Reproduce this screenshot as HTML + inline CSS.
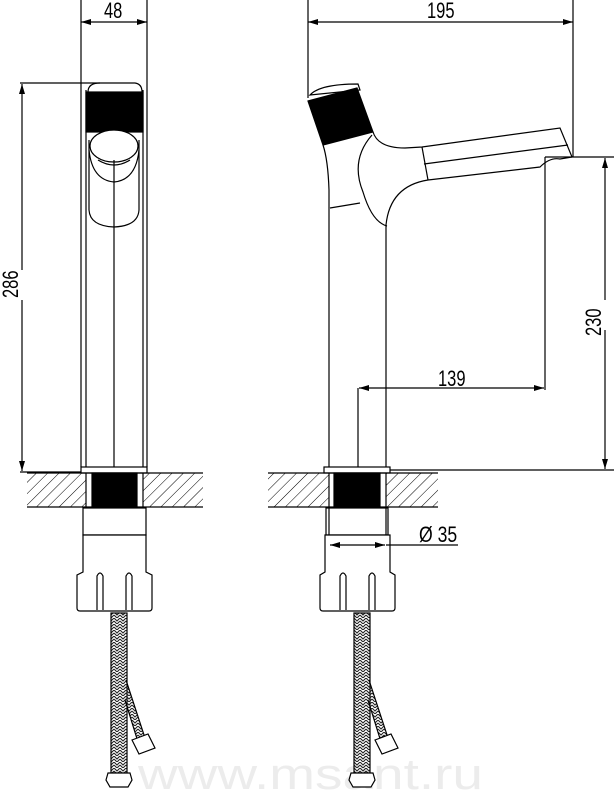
<!DOCTYPE html>
<html><head><style>html,body{margin:0;padding:0;background:#fff}svg{display:block}</style></head><body>
<svg width="614" height="790" viewBox="0 0 614 790" xmlns="http://www.w3.org/2000/svg" font-family="Liberation Sans, sans-serif">
<defs>
<pattern id="h" width="8" height="8" patternUnits="userSpaceOnUse" patternTransform="rotate(45)"><line x1="0" y1="0" x2="0" y2="8" stroke="#000" stroke-width="1"/></pattern>
<pattern id="br" width="6" height="6" patternUnits="userSpaceOnUse"><path d="M0 0 L3 3 L6 0 M0 3 L3 6 L6 3" stroke="#222" fill="none" stroke-width="1.1"/></pattern>
<marker id="a" markerWidth="10" markerHeight="6" refX="10" refY="3" orient="auto" markerUnits="userSpaceOnUse"><path d="M0 0 L10 3 L0 6z" fill="#000"/></marker>
</defs>
<text x="138" y="789" font-size="44" fill="#ececec" textLength="345" lengthAdjust="spacingAndGlyphs">www.msant.ru</text>
<g stroke="#000" stroke-width="1.2" fill="none">
<line x1="81" y1="0" x2="81" y2="467"/><line x1="147" y1="0" x2="147" y2="467"/>
<line x1="114" y1="22" x2="81" y2="22" marker-end="url(#a)"/><line x1="114" y1="22" x2="147" y2="22" marker-end="url(#a)"/>
<line x1="20" y1="83" x2="100" y2="83"/>
<line x1="22" y1="270" x2="22" y2="84" marker-end="url(#a)"/><line x1="22" y1="300" x2="22" y2="471" marker-end="url(#a)"/>
<line x1="20" y1="472" x2="81" y2="472"/>
<line x1="86" y1="90" x2="86" y2="467"/><line x1="143" y1="90" x2="143" y2="467"/>
<path d="M88 92 Q88 83 100 83 L135 83 Q142 84 142 92"/>
<rect x="86" y="92" width="57" height="40" fill="#000"/>
<ellipse cx="114" cy="146" rx="24" ry="16" fill="#fff"/>
<path d="M89 140 L89 210 Q90 226 114 227 Q138 226 139 210 L139 140"/>
<path d="M89 150 Q92 180 114 182 Q136 180 139 150"/>
<path d="M98 160 Q114 170 130 160"/>
<line x1="114" y1="160" x2="114" y2="467"/>
<rect x="81" y="467" width="66" height="6" fill="#fff"/>
<rect x="27" y="473" width="59" height="34" fill="url(#h)" stroke="none"/><rect x="143" y="473" width="60" height="34" fill="url(#h)" stroke="none"/>
<line x1="27" y1="473" x2="203" y2="473"/><line x1="27" y1="507" x2="203" y2="507"/>
<line x1="86" y1="473" x2="86" y2="507"/><line x1="143" y1="473" x2="143" y2="507"/>
<rect x="92" y="473" width="45" height="34" fill="#000"/>
<rect x="83" y="508" width="63" height="27"/>
<path d="M83 535 L146 535 L146 572 L152 575 L152 608 Q152 611 149 611 L80 611 Q77 611 77 608 L77 575 L83 572 Z" fill="#fff"/>
<path d="M97 610 L97 576 Q100 570 103 576 L103 610 M126 610 L126 576 Q129 570 132 576 L132 610"/>
<rect x="111" y="613" width="16" height="160" fill="url(#br)"/>
<path d="M126 680 L145 738 L138 742 L125 700" fill="url(#br)"/>
<path d="M108 773 L130 773 L132 780 L128 787 L110 787 L106 780 Z" fill="#fff"/>
<path d="M132 740 L148 734 L155 748 L139 754 Z" fill="#fff"/>
<line x1="308" y1="0" x2="308" y2="98"/><line x1="573" y1="0" x2="573" y2="157"/>
<line x1="440" y1="22" x2="308" y2="22" marker-end="url(#a)"/><line x1="440" y1="22" x2="573" y2="22" marker-end="url(#a)"/>
<path d="M310 95 Q320 84 358 84 L360 90 Z" fill="#fff"/>
<path d="M308 101 L357 88 L373 132 L323 145 Z" fill="#000"/>
<path d="M323 145 Q328 160 329 190 L329 467"/>
<path d="M373 132 Q378 148 405 148 L422 147 L560 128 L572 157"/>
<path d="M372 135 Q350 160 363 192 Q372 222 387 226"/>
<line x1="330" y1="208" x2="360" y2="203"/>
<line x1="422" y1="147" x2="428" y2="180"/>
<line x1="424" y1="164" x2="568" y2="145"/>
<path d="M428 180 L540 167 Q550 157 560 159 L572 157"/>
<path d="M428 180 Q390 186 386 225 L386 467"/>
<line x1="358" y1="388" x2="358" y2="467"/>
<line x1="545" y1="157" x2="614" y2="157"/>
<line x1="545" y1="157" x2="545" y2="390"/>
<line x1="450" y1="388" x2="359" y2="388" marker-end="url(#a)"/><line x1="450" y1="388" x2="544" y2="388" marker-end="url(#a)"/>
<line x1="605" y1="300" x2="605" y2="158" marker-end="url(#a)"/><line x1="605" y1="330" x2="605" y2="469" marker-end="url(#a)"/>
<line x1="390" y1="470" x2="614" y2="470"/>
<rect x="324" y="467" width="66" height="6" fill="#fff"/>
<rect x="268" y="473" width="61" height="34" fill="url(#h)" stroke="none"/><rect x="386" y="473" width="52" height="34" fill="url(#h)" stroke="none"/>
<line x1="268" y1="473" x2="438" y2="473"/><line x1="268" y1="507" x2="438" y2="507"/>
<line x1="329" y1="473" x2="329" y2="507"/><line x1="386" y1="473" x2="386" y2="507"/>
<rect x="334" y="473" width="46" height="34" fill="#000"/>
<rect x="326" y="508" width="62" height="27"/>
<line x1="329" y1="508" x2="329" y2="550"/><line x1="386" y1="508" x2="386" y2="550"/>
<path d="M325 535 L390 535 L390 572 L395 575 L395 608 Q395 611 392 611 L323 611 Q320 611 320 608 L320 575 L325 572 Z" fill="#fff"/>
<path d="M340 610 L340 576 Q343 570 346 576 L346 610 M369 610 L369 576 Q372 570 375 576 L375 610"/>
<line x1="357" y1="545" x2="330" y2="545" marker-end="url(#a)"/><line x1="357" y1="545" x2="385" y2="545" marker-end="url(#a)"/>
<line x1="386" y1="545" x2="458" y2="545"/>
<rect x="354" y="613" width="16" height="160" fill="url(#br)"/>
<path d="M369 680 L388 738 L381 742 L368 700" fill="url(#br)"/>
<path d="M351 773 L373 773 L375 780 L371 787 L353 787 L349 780 Z" fill="#fff"/>
<path d="M375 740 L391 734 L398 748 L382 754 Z" fill="#fff"/>
</g>
<g font-size="22" fill="#000">
<text transform="translate(104,18) scale(0.75,1)">48</text>
<text transform="translate(427,18) scale(0.75,1)">195</text>
<text transform="translate(438,386) scale(0.75,1)">139</text>
<text transform="translate(419,542) scale(0.8,1)">Ø 35</text>
<text transform="translate(18,298) rotate(-90) scale(0.75,1)">286</text>
<text transform="translate(601,336) rotate(-90) scale(0.75,1)">230</text>
</g>
</svg>
</body></html>
